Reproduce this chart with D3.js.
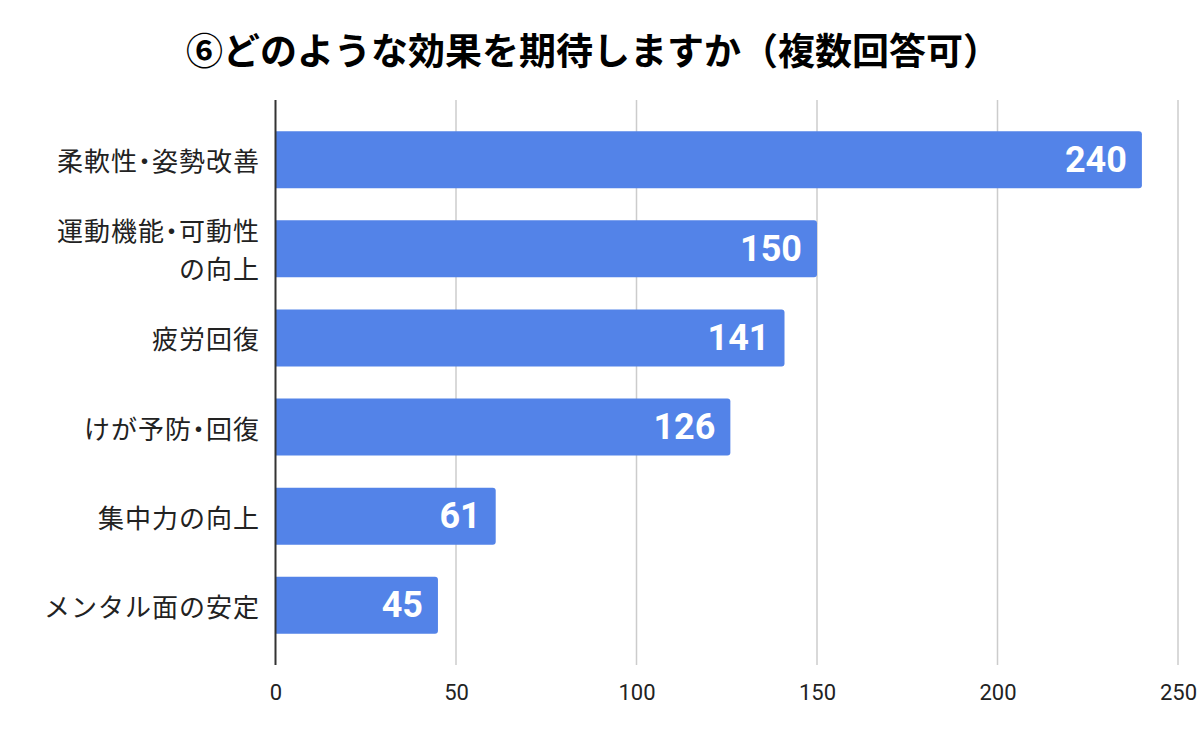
<!DOCTYPE html>
<html><head><meta charset="utf-8">
<script src="https://cdn.jsdelivr.net/npm/d3@7"></script>
<style>
html,body{margin:0;padding:0;background:#fff;}
svg{display:block;}
</style>
</head><body>
<svg id="chart" width="1200" height="732"></svg>
<script>
const title = "⑥どのような効果を期待しますか（複数回答可）";
const categories = [
  ["柔軟性・姿勢改善"],
  ["運動機能・可動性", "の向上"],
  ["疲労回復"],
  ["けが予防・回復"],
  ["集中力の向上"],
  ["メンタル面の安定"]
];
const values = [240, 150, 141, 126, 61, 45];
const tickValues = [0, 50, 100, 150, 200, 250];

const svg = d3.select("#chart");
const margin = {left: 275.5, right: 1178, top: 100, bottom: 665};
const cjk = "'Noto Sans CJK JP', 'Noto Sans', sans-serif";
const num = "Roboto, 'Noto Sans', sans-serif";

const x = d3.scaleLinear().domain([0, 250]).range([margin.left, margin.right]);
const y = d3.scaleBand().domain(d3.range(values.length))
  .range([margin.top, margin.bottom]).paddingInner(0.36).paddingOuter(0.35);

svg.append("text").attr("x", 593).attr("y", 49)
  .attr("text-anchor", "middle").attr("dominant-baseline", "central")
  .style("font-family", cjk).style("font-weight", 700).style("font-size", "37px")
  .attr("fill", "#000").text(title);

// gridlines
svg.append("g").selectAll("line").data(tickValues.filter(d => d > 0)).join("line")
  .attr("x1", d => x(d)).attr("x2", d => x(d))
  .attr("y1", margin.top).attr("y2", margin.bottom)
  .attr("stroke", "#cccccc").attr("stroke-width", 1.5);

// bars with rounded right end
const r = 3;
svg.append("g").selectAll("path").data(values).join("path")
  .attr("fill", "#5383e8")
  .attr("d", (d, i) => {
    const x0 = x(0), x1 = x(d), y0 = y(i), h = y.bandwidth();
    return `M${x0},${y0}H${x1 - r}Q${x1},${y0} ${x1},${y0 + r}V${y0 + h - r}Q${x1},${y0 + h} ${x1 - r},${y0 + h}H${x0}Z`;
  });

// zero axis line
svg.append("line").attr("x1", x(0)).attr("x2", x(0))
  .attr("y1", margin.top).attr("y2", margin.bottom)
  .attr("stroke", "#333").attr("stroke-width", 2);

// value labels
svg.append("g").selectAll("text").data(values).join("text")
  .attr("x", d => x(d) - 15).attr("y", (d, i) => y(i) + y.bandwidth() / 2)
  .attr("text-anchor", "end").attr("dominant-baseline", "central")
  .style("font-family", num).style("font-weight", 700).style("font-size", "36px")
  .attr("fill", "#fff").text(d => d);

// category labels, one text per line; half-width punctuation via 'halt'
const lineData = [];
categories.forEach((lines, i) => {
  const n = lines.length, lh = 38;
  lines.forEach((l, j) => lineData.push({i, l, off: (j - (n - 1) / 2) * lh}));
});
svg.append("g").selectAll("text").data(lineData).join("text")
  .attr("x", 260).attr("y", d => y(d.i) + y.bandwidth() / 2 + d.off)
  .attr("text-anchor", "end").attr("dominant-baseline", "central")
  .style("font-family", cjk).style("font-size", "26px").style("letter-spacing", "1px")
  .style("font-feature-settings", "'halt' 1")
  .attr("fill", "#222").text(d => d.l);

// x axis tick labels
const axis = d3.axisBottom(x).tickValues(tickValues).tickSize(0).tickPadding(0);
const ga = svg.append("g").attr("transform", `translate(0,${margin.bottom + 27})`).call(axis);
ga.select(".domain").remove();
ga.selectAll("text").attr("dominant-baseline", "central").attr("dy", null)
  .style("font-family", num).style("font-size", "22px").attr("fill", "#222");
</script>
</body></html>
